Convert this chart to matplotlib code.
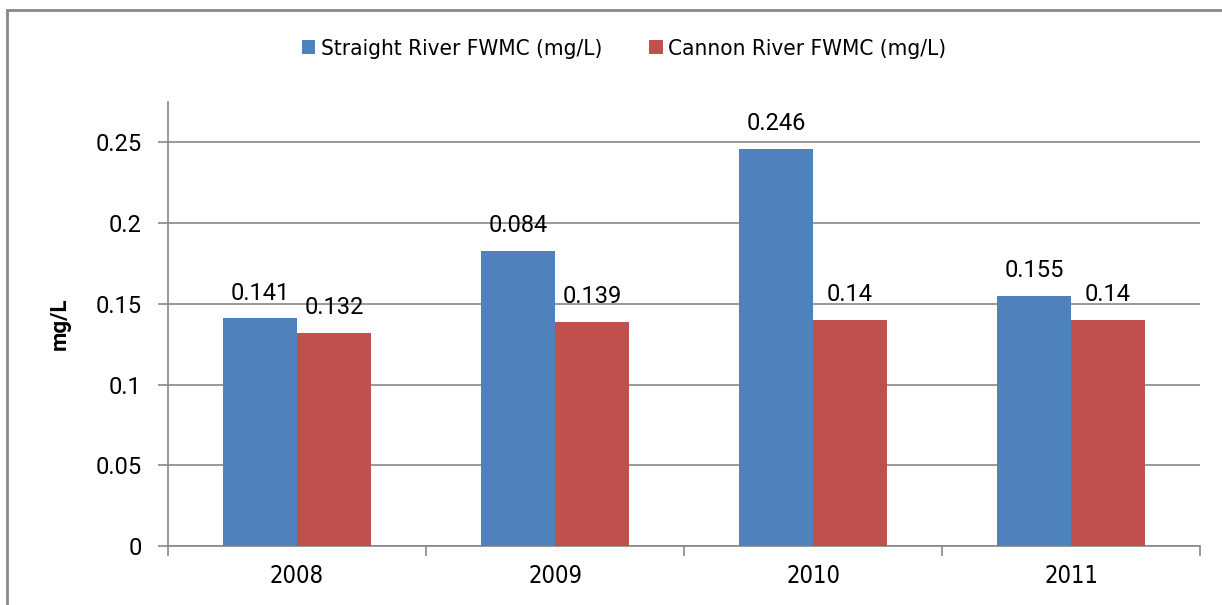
import matplotlib.pyplot as plt
import matplotlib.font_manager as fm
import numpy as np
from matplotlib.patches import Rectangle

# Flow-weighted mean concentrations by year
years = ["2008", "2009", "2010", "2011"]
straight_fwmc = [0.141, 0.183, 0.246, 0.155]
cannon_fwmc = [0.132, 0.139, 0.140, 0.140]

# Label text printed over each bar
straight_labels = ["0.141", "0.084", "0.246", "0.155"]
cannon_labels = ["0.132", "0.139", "0.14", "0.14"]


def pick_narrow():
    # prefer a condensed regular face if one is installed
    for f in fm.fontManager.ttflist:
        if (str(f.stretch) in ("condensed", "semi-condensed", "extra-condensed")
                or "Narrow" in f.name or "Condensed" in f.name) \
                and f.style == "normal" and f.weight in (400, "normal", "regular"):
            return fm.FontProperties(fname=f.fname)
    return None


names = {f.name for f in fm.fontManager.ttflist}
plain = "Roboto" if "Roboto" in names else "DejaVu Sans"
narrow_fp = pick_narrow()

blue = "#4F81BD"
red = "#C0504D"
grid_gray = "#888888"

fig = plt.figure(figsize=(12.22, 6.05), dpi=100)
ax = fig.add_axes([168 / 1222, 59 / 605, 1032 / 1222, 444 / 605])

x = np.arange(len(years))
width = 1 / 3.5

ax.bar(x - width / 2, straight_fwmc, width, color=blue,
       label="Straight River FWMC (mg/L)", zorder=3)
ax.bar(x + width / 2, cannon_fwmc, width, color=red,
       label="Cannon River FWMC (mg/L)", zorder=3)

for xi, v, s in zip(x, straight_fwmc, straight_labels):
    ax.text(xi - width / 2, v + 0.0115, s, ha="center", va="baseline",
            fontsize=17, family=plain, color="black", zorder=4)
for xi, v, s in zip(x, cannon_fwmc, cannon_labels):
    ax.text(xi + width / 2, v + 0.0115, s, ha="center", va="baseline",
            fontsize=17, family=plain, color="black", zorder=4)

ax.set_xlim(-0.5, len(years) - 0.5)
ax.set_ylim(0, 0.275)
ax.set_yticks([0, 0.05, 0.1, 0.15, 0.2, 0.25])
ax.set_yticklabels(["0", "0.05", "0.1", "0.15", "0.2", "0.25"],
                   fontsize=17, family=plain)
ax.set_xticks(x)
if narrow_fp is not None:
    xt = ax.set_xticklabels(years, fontproperties=narrow_fp)
    for t in xt:
        t.set_fontsize(17)
else:
    ax.set_xticklabels(years, fontsize=16, family=plain)
ax.set_xticks(np.arange(len(years) + 1) - 0.5, minor=True)

ax.tick_params(axis="x", which="major", length=0, pad=13)
ax.tick_params(axis="x", which="minor", length=7, color=grid_gray, width=1.2)
ax.tick_params(axis="y", length=7, color=grid_gray, width=1.2, pad=12)

ax.grid(axis="y", color=grid_gray, linewidth=1.2, zorder=0)
for side in ["top", "right"]:
    ax.spines[side].set_visible(False)
for side in ["left", "bottom"]:
    ax.spines[side].set_color(grid_gray)
    ax.spines[side].set_linewidth(1.2)

ax.set_ylabel("mg/L", fontsize=16, fontweight="bold", family=plain, labelpad=18)

if narrow_fp is not None:
    leg_prop = narrow_fp.copy()
    leg_prop.set_size(16.1)
else:
    leg_prop = {"family": plain, "size": 15}
fig.legend(loc="center", bbox_to_anchor=(0.5 + 13 / 1222, 1 - 49 / 605), ncol=2,
           frameon=False, prop=leg_prop,
           handlelength=0.6, handleheight=0.6, handletextpad=0.25,
           columnspacing=2.1)

# Chart area border
fig.patches.append(Rectangle((7.5 / 1222, -0.1), 1.2, 1.1 - 10.5 / 605,
                             transform=fig.transFigure, fill=False,
                             edgecolor=grid_gray, linewidth=2))

fig.savefig("out.png", dpi=100)
